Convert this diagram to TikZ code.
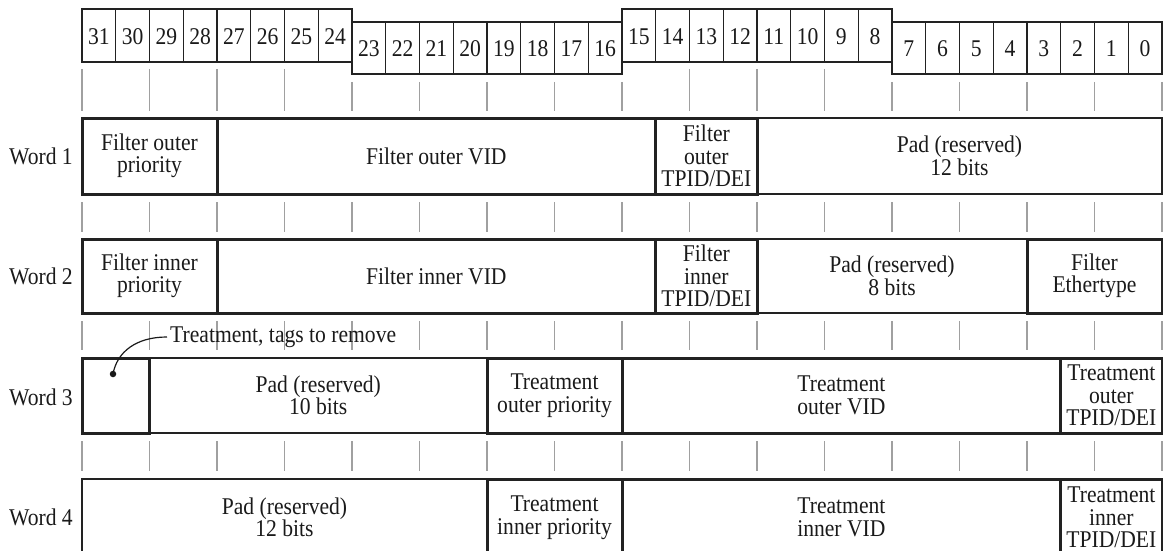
\documentclass[tikz,border=0pt]{standalone}
\usepackage{fontspec}
\setmainfont{Liberation Serif}[FakeStretch=0.9]
\definecolor{lnc}{HTML}{222222}
\definecolor{tkc}{HTML}{A0A0A0}
\definecolor{txc}{HTML}{1A1A1A}
\newcommand\bx[1]{\fpeval{82+33.75*(#1)}}
\newcommand\mkfield[7]{% style, name, n1, n2, y1, y2, text
  \draw[#1] (\bx{#3},#5) rectangle (\bx{#4},#6);
  \node[fldtext] (#2) at ({(\bx{#3}+\bx{#4})/2},{(#5+#6)/2}) {#7};
}
\begin{document}
\begin{tikzpicture}[x=1pt,y=-1pt,
  bitbox/.style={draw=lnc,line width=1.3pt},
  bitnum/.style={inner sep=0pt,text=txc,font=\fontsize{24}{22.5}\selectfont},
  tickln/.style={draw=tkc,line width=1.3pt},
  thinfld/.style={draw=lnc,line width=1.2pt},
  thickfld/.style={draw=lnc,line width=3pt},
  fldtext/.style={inner sep=0pt,align=center,text=txc,font=\fontsize{24}{22.5}\selectfont},
  wordlbl/.style={inner sep=0pt,anchor=east,text=txc,font=\fontsize{24}{22.5}\selectfont},
  dotnode/.style={circle,fill=txc,inner sep=0pt,minimum size=6.5pt},
  leader/.style={draw=txc,line width=1.2pt}]
\useasboundingbox (0,0) rectangle (1163,551);
\clip (0,0) rectangle (1163,551);
% bit header
\foreach \k in {0,...,31}{
  \pgfmathtruncatemacro\b{31-\k}
  \pgfmathsetmacro\xa{82+33.75*\k}
  \pgfmathsetmacro\xb{\xa+33.75}
  \pgfmathtruncatemacro\g{mod(int(\k/8),2)}
  \ifnum\g=0 \def\ya{9}\def\yb{62}\else\def\ya{22}\def\yb{74}\fi
  \draw[bitbox] (\xa,\ya) rectangle (\xb,\yb);
  \node[bitnum] (b\b) at ({(\xa+\xb)/2},{(\ya+\yb)/2+1}) {\b};
}
% ticks
\foreach \k in {0,...,16}{
  \pgfmathsetmacro\xt{82+67.5*\k}
  \pgfmathtruncatemacro\up{or(\k<4,and(\k>8,\k<12))}
  \ifnum\up=1 \def\yt{69}\else\def\yt{82}\fi
  \draw[tickln] (\xt,\yt) -- (\xt,111);
  \draw[tickln] (\xt,202) -- (\xt,232);
  \draw[tickln] (\xt,321) -- (\xt,350);
  \draw[tickln] (\xt,441) -- (\xt,471);
}
% word labels
\node[wordlbl] (word1) at (73,156) {Word 1};
\node[wordlbl] (word2) at (73,276) {Word 2};
\node[wordlbl] (word3) at (73,397) {Word 3};
\node[wordlbl] (word4) at (73,517) {Word 4};
% thin fields
\mkfield{thinfld}{w1d}{20}{32}{118}{194}{Pad (reserved)\\12 bits}
\mkfield{thinfld}{w2d}{20}{28}{239}{313}{Pad (reserved)\\8 bits}
\mkfield{thinfld}{w3b}{2}{12}{358}{433}{Pad (reserved)\\10 bits}
\mkfield{thinfld}{w4a}{0}{12}{479}{556}{Pad (reserved)\\12 bits}
% thick fields
\mkfield{thickfld}{w1a}{0}{4}{118}{194}{Filter outer\\priority}
\mkfield{thickfld}{w1b}{4}{17}{118}{194}{Filter outer VID}
\mkfield{thickfld}{w1c}{17}{20}{118}{194}{Filter\\outer\\TPID/DEI}
\mkfield{thickfld}{w2a}{0}{4}{239}{313}{Filter inner\\priority}
\mkfield{thickfld}{w2b}{4}{17}{239}{313}{Filter inner VID}
\mkfield{thickfld}{w2c}{17}{20}{239}{313}{Filter\\inner\\TPID/DEI}
\mkfield{thickfld}{w2e}{28}{32}{239}{313}{Filter\\Ethertype}
\mkfield{thickfld}{w3a}{0}{2}{358}{433}{}
\mkfield{thickfld}{w3c}{12}{16}{358}{433}{Treatment\\outer priority}
\mkfield{thickfld}{w3d}{16}{29}{358}{433}{Treatment\\outer VID}
\mkfield{thickfld}{w3e}{29}{32}{358}{433}{Treatment\\outer\\TPID/DEI}
\mkfield{thickfld}{w4b}{12}{16}{479}{556}{Treatment\\inner priority}
\mkfield{thickfld}{w4c}{16}{29}{479}{556}{Treatment\\inner VID}
\mkfield{thickfld}{w4d}{29}{32}{479}{556}{Treatment\\inner\\TPID/DEI}
% callout
\node[dotnode] (dot) at (113,374) {};
\node[inner xsep=3pt,inner ysep=0pt,anchor=west,text=txc,font=\fontsize{24}{22.5}\selectfont] (tags) at (167,337) {Treatment, tags to remove};
\draw[leader] (dot.center) .. controls (117,352) and (136,337) .. (tags.west);
\end{tikzpicture}
\end{document}
